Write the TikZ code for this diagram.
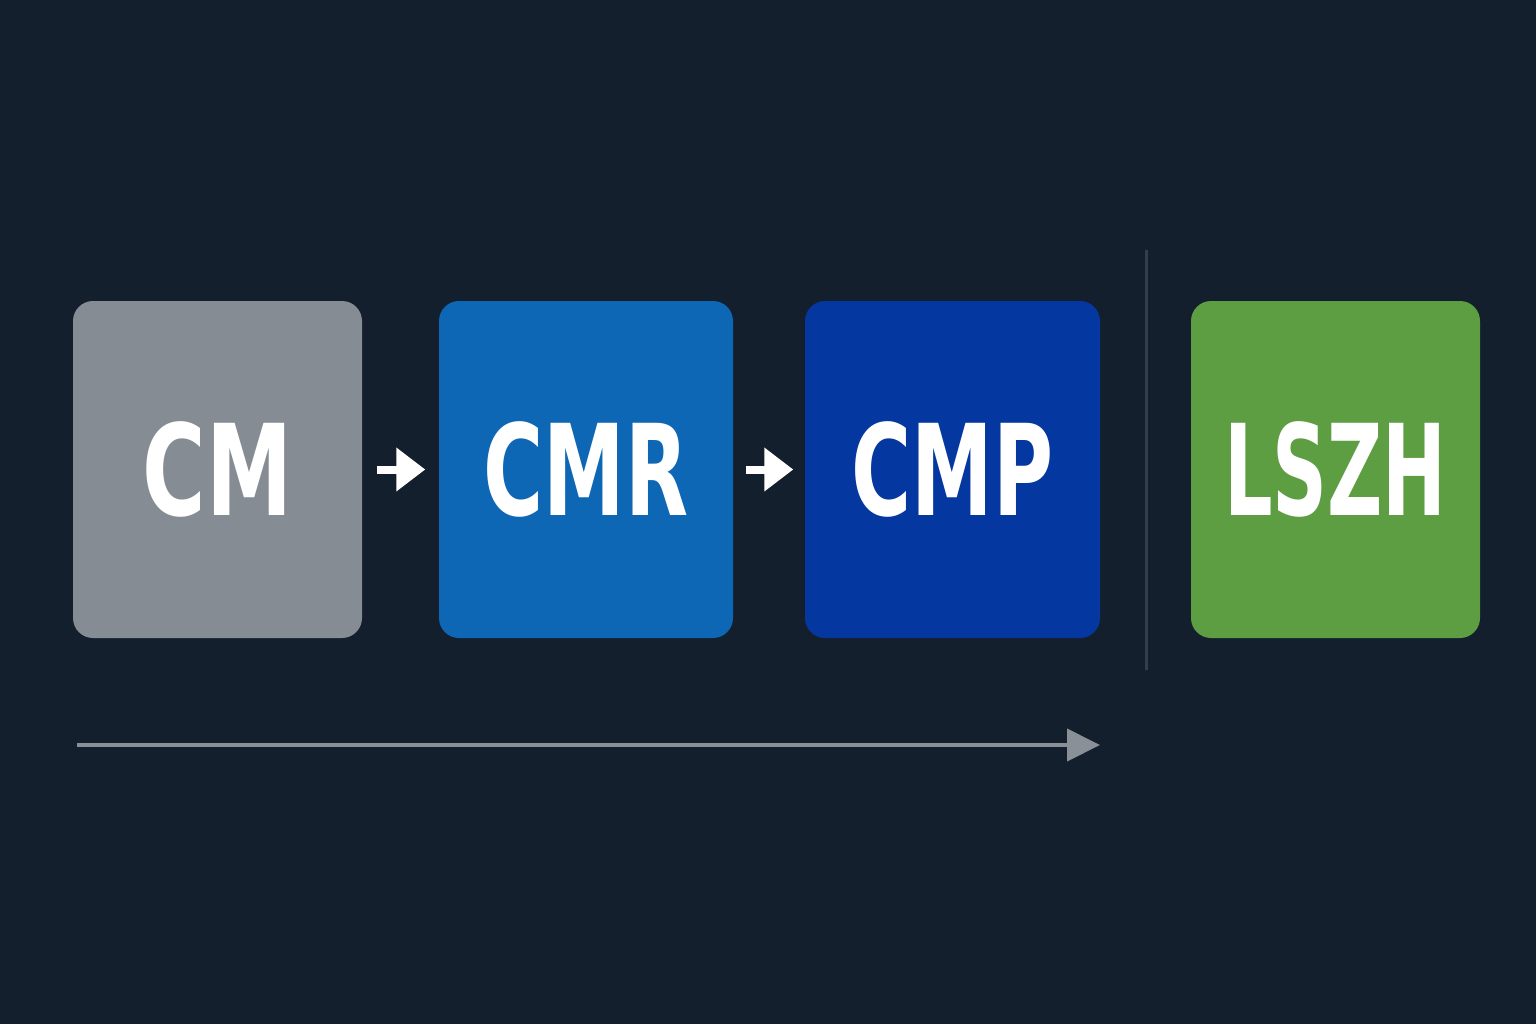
\documentclass[tikz,border=0pt]{standalone}
\usepackage{fontspec}
\usepackage{graphicx}
\newfontfamily\boxfont{DejaVu Sans Condensed}[BoldFont={DejaVu Sans Condensed Bold}]
\usetikzlibrary{arrows.meta}
\definecolor{bg}{HTML}{141F2D}
\definecolor{cmgray}{HTML}{868C94}
\definecolor{cmrblue}{HTML}{0E67B5}
\definecolor{cmpblue}{HTML}{0537A0}
\definecolor{lszhgreen}{HTML}{5E9E43}
\definecolor{axisgray}{HTML}{8A9098}
\definecolor{divgray}{HTML}{333D4B}
\newcommand{\boxlabel}[2][0.74]{\scalebox{#1}[1]{#2}}
\tikzset{
  cablebox/.style={rounded corners=0.2cm, minimum height=3.37cm, inner sep=0pt,
    text=white, font=\boxfont\bfseries\fontsize{36}{40}\selectfont},
  smallarrow/.style={draw=white, line width=0.08cm, -{Triangle[length=0.29cm,width=0.42cm]}},
  timeline/.style={draw=axisgray, line width=0.04cm, -{Triangle[length=0.33cm,width=0.32cm]}},
  divider/.style={draw=divgray, line width=0.03cm}
}
\begin{document}
\begin{tikzpicture}
\fill[bg] (0,0) rectangle (15.36,10.24);
\useasboundingbox (0,0) rectangle (15.36,10.24);
\node[cablebox, fill=cmgray, minimum width=2.89cm] (cm) at (2.175,5.545) {\boxlabel[0.76]{CM}};
\node[cablebox, fill=cmrblue, minimum width=2.94cm] (cmr) at (5.86,5.545) {\boxlabel[0.72]{CMR}};
\node[cablebox, fill=cmpblue, minimum width=2.95cm] (cmp) at (9.525,5.545) {\boxlabel[0.72]{CMP}};
\node[cablebox, fill=lszhgreen, minimum width=2.89cm] (lszh) at (13.355,5.545) {\boxlabel[0.67]{LSZH}};
\draw[smallarrow, shorten <=0.14cm, shorten >=0.13cm] (cm) -- (cmr);
\draw[smallarrow, shorten <=0.12cm, shorten >=0.11cm] (cmr) -- (cmp);
\coordinate (d0) at (11.46,7.74);
\coordinate (d1) at (11.46,3.54);
\draw[divider] (d0) -- (d1);
\coordinate (t0) at (0.77,2.79);
\coordinate (t1) at (11.00,2.79);
\draw[timeline] (t0) -- (t1);
\end{tikzpicture}
\end{document}
